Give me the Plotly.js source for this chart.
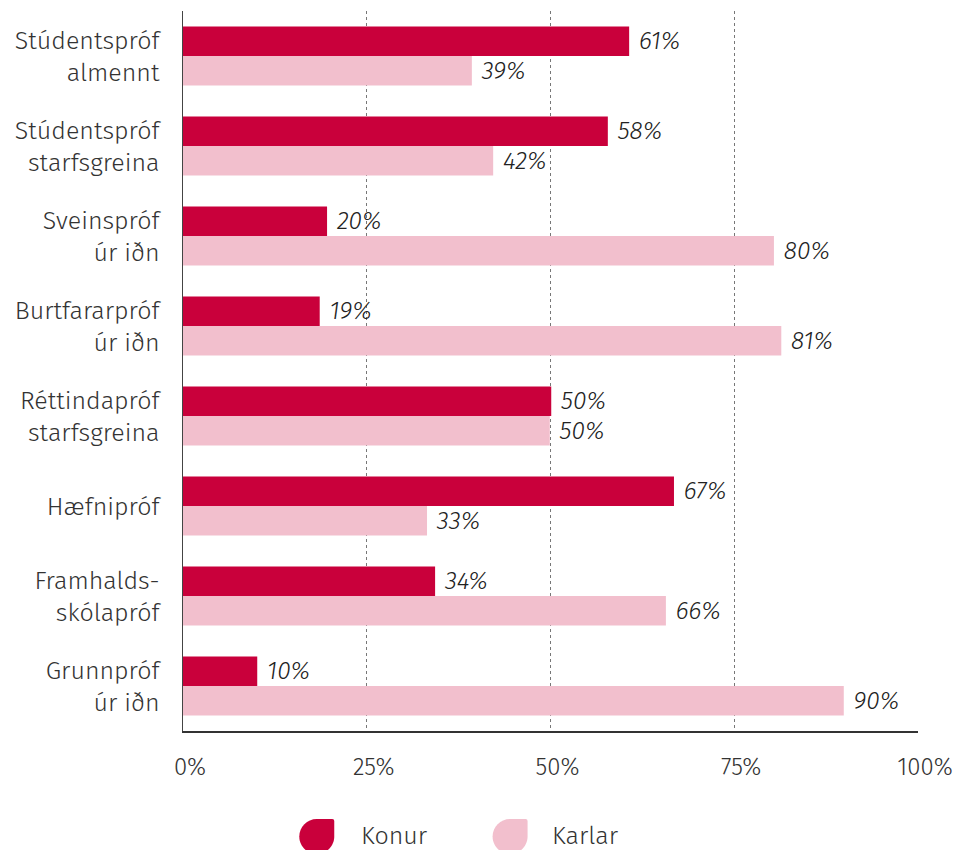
<!DOCTYPE html>
<html>
<head>
<meta charset="utf-8">
<script src="https://cdn.plot.ly/plotly-3.0.1.min.js"></script>
<style>
  html, body { margin: 0; padding: 0; background: #fff; }
  #chart { width: 956px; height: 850px; }
</style>
</head>
<body>
<div id="chart"></div>
<script>
const categories = [
  "Stúdentspróf<br>almennt",
  "Stúdentspróf<br>starfsgreina",
  "Sveinspróf<br>úr iðn",
  "Burtfararpróf<br>úr iðn",
  "Réttindapróf<br>starfsgreina",
  "Hæfnipróf",
  "Framhalds-<br>skólapróf",
  "Grunnpróf<br>úr iðn"
];
const konur = [60.7, 57.8, 19.6, 18.6, 50.1, 66.8, 34.3, 10.1];
const karlar = [39.3, 42.2, 80.4, 81.4, 49.9, 33.2, 65.7, 89.9];
const seriesNames = ["Konur", "Karlar"];
const seriesColors = ["#c9003b", "#f2bfcd"];
const xTickVals = [0, 25, 50, 75, 100];
const xTickText = ["0%", "25%", "50%", "75%", "100%"];

const FONT = '"Fira Sans", "Open Sans", "Noto Sans", sans-serif';

function barTrace(vals, i) {
  return {
    type: 'bar',
    orientation: 'h',
    name: seriesNames[i],
    y: categories,
    x: vals,
    marker: { color: seriesColors[i], line: { width: 0 } },
    texttemplate: '\u00a0%{x:.0f}%',
    textposition: 'outside',
    textfont: { family: FONT, size: 25, color: '#222', style: 'italic', weight: 300 },
    cliponaxis: false,
    hoverinfo: 'x+y+name'
  };
}

const data = [barTrace(konur, 0), barTrace(karlar, 1)];

// legend drop shape (pixel path, y up)
const r = 17.5, k = 0.5523 * r;
const drop = `M0,${r} L${r-2},${r} Q${r},${r} ${r},${r-2} L${r},0 ` +
  `C${r},${-k} ${k},${-r} 0,${-r} C${-k},${-r} ${-r},${-k} ${-r},0 ` +
  `C${-r},${k} ${-k},${r} 0,${r} Z`;

const legY = -0.1465;
const shapes = [
  { type: 'path', xref: 'paper', yref: 'paper', xsizemode: 'pixel', ysizemode: 'pixel',
    xanchor: 0.182, yanchor: legY, path: drop, fillcolor: seriesColors[0], line: { width: 0 } },
  { type: 'path', xref: 'paper', yref: 'paper', xsizemode: 'pixel', ysizemode: 'pixel',
    xanchor: 0.445, yanchor: legY, path: drop, fillcolor: seriesColors[1], line: { width: 0 } }
];
const annotations = [
  { xref: 'paper', yref: 'paper', x: 0.239, y: legY, xanchor: 'left', yanchor: 'middle',
    text: seriesNames[0], showarrow: false, font: { family: FONT, size: 25, color: '#333', weight: 300 } },
  { xref: 'paper', yref: 'paper', x: 0.499, y: legY, xanchor: 'left', yanchor: 'middle',
    text: seriesNames[1], showarrow: false, font: { family: FONT, size: 25, color: '#333', weight: 300 } }
];

const layout = {
  width: 956, height: 850,
  margin: { l: 183, r: 38, t: 11, b: 119 },
  paper_bgcolor: '#fff', plot_bgcolor: '#fff',
  font: { family: FONT, size: 25, color: '#333', weight: 300 },
  barmode: 'group',
  bargap: 0.344,
  bargroupgap: 0,
  showlegend: false,
  xaxis: {
    range: [0, 100],
    tickvals: xTickVals,
    ticktext: xTickText,
    showgrid: true,
    gridcolor: '#777',
    griddash: 'dot',
    gridwidth: 1,
    zeroline: false,
    showline: true,
    linecolor: '#333',
    linewidth: 1.5,
    ticks: '',
    ticklabelstandoff: 14,
    ticklabelshift: 7,
    tickfont: { family: FONT, size: 24, color: '#333', weight: 300 },
    fixedrange: true
  },
  yaxis: {
    autorange: 'reversed',
    showgrid: false,
    zeroline: false,
    showline: true,
    linecolor: '#444',
    linewidth: 1.5,
    ticks: '',
    ticklabelstandoff: 17,
    tickfont: { family: FONT, size: 25, color: '#333', weight: 300 },
    fixedrange: true
  },
  shapes: shapes,
  annotations: annotations
};

Plotly.newPlot('chart', data, layout, { displayModeBar: false, staticPlot: true });
</script>
</body>
</html>
